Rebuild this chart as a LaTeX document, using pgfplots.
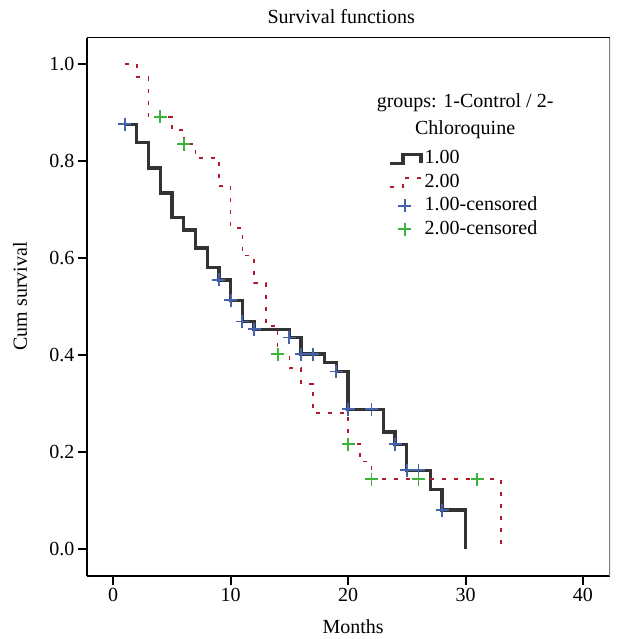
\documentclass[border=0pt]{standalone}
\usepackage{fontspec}
\setmainfont{Liberation Serif}
\usepackage{pgfplots}
\pgfplotsset{compat=1.18}
\definecolor{cblack}{HTML}{333333}
\definecolor{cred}{HTML}{B2182B}
\definecolor{cblue}{HTML}{4463AE}
\definecolor{cgreen}{HTML}{3CB43C}
\pgfplotsset{
  steplegA/.style={legend image code/.code={\draw[##1] (0pt,-4.5pt) -- (13pt,-4.5pt) -- (13pt,4.5pt) -- (31pt,4.5pt) -- (31pt,-4.5pt);}},
  steplegB/.style={legend image code/.code={\draw[##1] (0pt,-4.5pt) -- (13pt,-4.5pt) -- (13pt,4.5pt) -- (31pt,4.5pt);}},
  markleg/.style={legend image code/.code={\draw[mark repeat=2,mark phase=2,##1] plot coordinates {(0pt,0pt)(15pt,0pt)(30pt,0pt)};}},
}
\begin{document}
\begin{tikzpicture}
\begin{axis}[
  name=ax,
  scale only axis,
  width=523pt, height=538pt,
  xmin=-2.23, xmax=42.3,
  ymin=-0.056, ymax=1.054,
  axis x line*=bottom, axis y line*=left,
  axis line style={line width=2pt, black},
  xtick={0,10,20,30,40},
  ytick={0,0.2,0.4,0.6,0.8,1.0},
  tick align=outside,
  major tick length=9pt,
  tick style={line width=2pt, black},
  /pgf/number format/assume math mode=true,
  ticklabel style={font=\fontsize{20}{24}\selectfont},
  yticklabel style={/pgf/number format/.cd, fixed, fixed zerofill, precision=1},
  xlabel={Months},
  ylabel={Cum survival},
  xlabel style={at={(axis description cs:0.509,-0.095)}, anchor=center, font=\fontsize{20}{24}\selectfont},
  ylabel style={at={(axis description cs:-0.128,0.52)}, anchor=center, font=\fontsize{20}{24}\selectfont},
  title={Survival functions},
  title style={at={(axis description cs:0.486,1.028)}, anchor=center, font=\fontsize{20}{24}\selectfont},
  legend style={at={(axis description cs:0.57,0.80)}, anchor=north west, draw=none, fill=none,
    font=\fontsize{20}{24}\selectfont, row sep=1.5pt,
    nodes={inner sep=2pt, text height=14pt, text depth=4pt}},
  legend cell align=left,
]
\addplot[const plot, color=cblack, line width=3.3pt, steplegA]
coordinates {
(1,0.876)(2,0.839)(3,0.786)(4,0.734)(5,0.684)(6,0.658)(7,0.621)(8,0.580)(9,0.555)(10,0.513)
(11,0.469)(12,0.453)(15,0.436)(16,0.402)(18,0.384)(19,0.366)(20,0.288)(23,0.241)(24,0.216)
(25,0.162)(27,0.122)(28,0.080)(30,0)
};
\addlegendentry{1.00}
\addplot[const plot, color=cred, line width=1.7pt, dash pattern=on 4pt off 8pt, steplegB]
coordinates {
(1,1.0)(2,0.973)(3,0.891)(5,0.864)(6,0.835)(7,0.807)(9,0.749)(10,0.662)(11,0.605)(12,0.548)
(13,0.460)(14,0.402)(15,0.373)(16,0.340)(17,0.280)(20,0.216)(21,0.180)(22,0.144)(33,0)
};
\addlegendentry{2.00}
\addplot[only marks, mark=+, mark size=6.5pt, color=cblue, line width=1.8pt, markleg]
coordinates {
(1,0.876)(9,0.555)(10,0.513)(11,0.469)(12,0.453)(15,0.436)(16,0.402)(17,0.402)(19,0.366)
(20,0.288)(22,0.288)(24,0.216)(25,0.162)(26,0.162)(28,0.080)
};
\addlegendentry{1.00-censored}
\addplot[only marks, mark=+, mark size=6.5pt, color=cgreen, line width=1.8pt, markleg]
coordinates {
(4,0.891)(6,0.835)(14,0.402)(20,0.216)(22,0.144)(26,0.144)(31,0.144)
};
\addlegendentry{2.00-censored}
\draw[line width=1pt, black] (rel axis cs:0,1) -- (rel axis cs:1,1);
\draw[line width=1.2pt, gray] (rel axis cs:1,1) -- (rel axis cs:1,0);
\node[align=center, font=\fontsize{20}{27}\selectfont, anchor=center] at (axis description cs:0.723,0.855) {groups: 1-Control / 2-\\Chloroquine};
\end{axis}
\pgfresetboundingbox
\path ([xshift=-87pt,yshift=-63pt]ax.south west) rectangle ([xshift=9pt,yshift=38pt]ax.north east);
\end{tikzpicture}
\end{document}
